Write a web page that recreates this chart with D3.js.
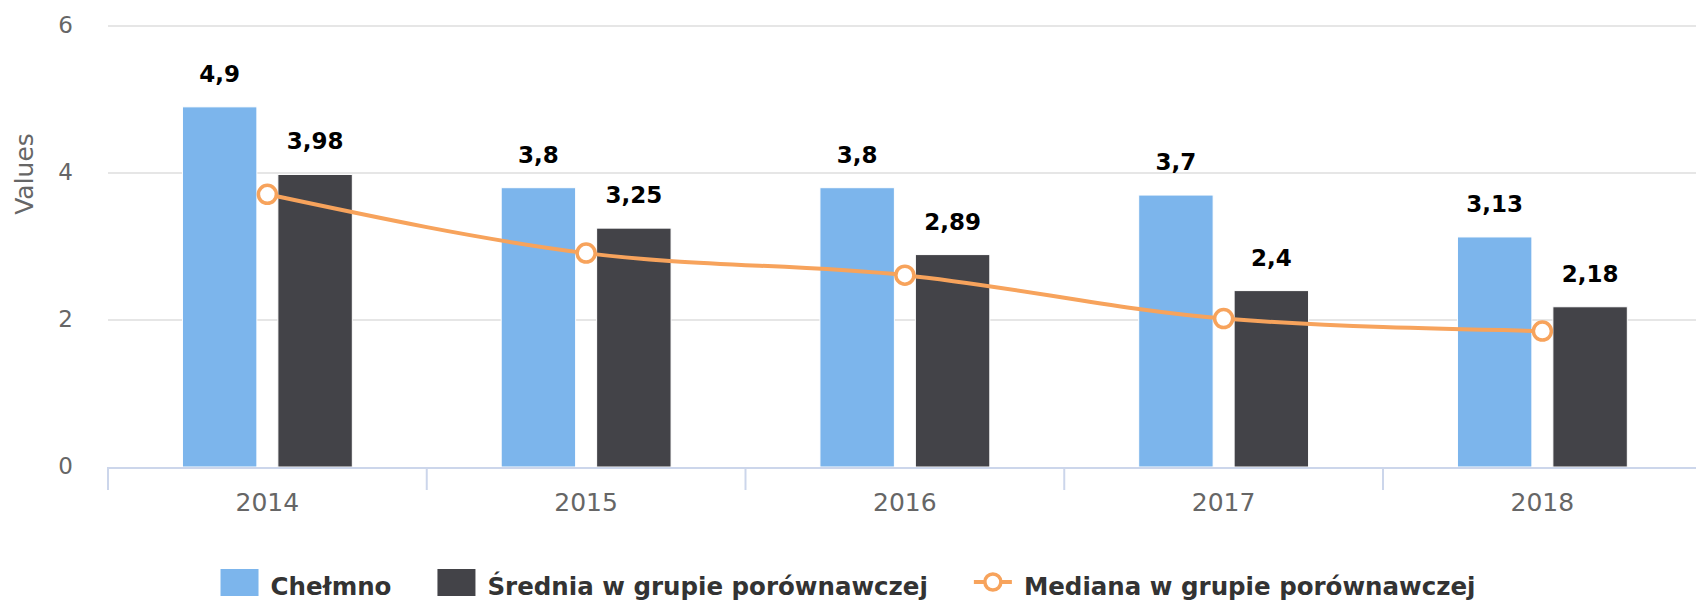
<!DOCTYPE html>
<html>
<head>
<meta charset="utf-8">
<script src="https://cdn.jsdelivr.net/npm/d3@7"></script>
<style>
  body { margin: 0; background: #fff; }
  svg { display: block; font-family: "DejaVu Sans", Verdana, sans-serif; }
</style>
</head>
<body>
<div id="chart"></div>
<script>
const WIDTH = 1696;
const HEIGHT = 600;

const years = ["2014", "2015", "2016", "2017", "2018"];
const chelmno = [4.9, 3.8, 3.8, 3.7, 3.13];
const srednia = [3.98, 3.25, 2.89, 2.4, 2.18];
const mediana = [3.71, 2.91, 2.61, 2.02, 1.85];
const yTicks = [0, 2, 4, 6];
const seriesNames = ["Chełmno", "Średnia w grupie porównawczej", "Mediana w grupie porównawczej"];
const colors = ["#7cb5ec", "#434348", "#f7a35c"];

const fmt = v => String(v).replace(".", ",");

const svg = d3.select("#chart").append("svg")
  .attr("width", WIDTH)
  .attr("height", HEIGHT);

// Scales
const x0 = d3.scaleBand().domain(years).range([108, 1701.75]).padding(0);
const x1 = d3.scaleBand()
  .domain(["a", "b"])
  .range([0, x0.bandwidth()])
  .paddingInner(0.22)
  .paddingOuter(0.78);
const y = d3.scaleLinear().domain([0, 6]).range([467, 26]);

// Gridlines
svg.append("g")
  .selectAll("line")
  .data(yTicks.filter(d => d > 0))
  .join("line")
  .attr("x1", 108)
  .attr("x2", WIDTH)
  .attr("y1", d => y(d))
  .attr("y2", d => y(d))
  .attr("stroke", "#e6e6e6")
  .attr("stroke-width", 2);

// Y labels
svg.append("g")
  .selectAll("text")
  .data(yTicks)
  .join("text")
  .attr("x", 73)
  .attr("y", d => y(d) - 1)
  .attr("dy", "0.36em")
  .attr("text-anchor", "end")
  .attr("fill", "#666666")
  .style("font-size", "23px")
  .text(d => d);

// Axis title
svg.append("text")
  .attr("transform", "translate(33,174) rotate(-90)")
  .attr("text-anchor", "middle")
  .attr("fill", "#666666")
  .style("font-size", "25px")
  .text("Values");

// Bars
const bars = svg.append("g");
const barData = years.flatMap((yr, i) => [
  { yr, key: "a", v: chelmno[i], c: colors[0] },
  { yr, key: "b", v: srednia[i], c: colors[1] },
]);
bars.selectAll("rect")
  .data(barData)
  .join("rect")
  .attr("x", d => x0(d.yr) + x1(d.key))
  .attr("y", d => y(d.v))
  .attr("width", x1.bandwidth())
  .attr("height", d => y(0) - y(d.v))
  .attr("fill", d => d.c)
  .attr("stroke", "#ffffff")
  .attr("stroke-width", 1);

// X axis line and ticks
svg.append("line")
  .attr("x1", 108)
  .attr("x2", WIDTH)
  .attr("y1", y(0) + 1)
  .attr("y2", y(0) + 1)
  .attr("stroke", "#ccd6eb")
  .attr("stroke-width", 2);

svg.append("g")
  .selectAll("line")
  .data(years)
  .join("line")
  .attr("x1", d => x0(d))
  .attr("x2", d => x0(d))
  .attr("y1", y(0))
  .attr("y2", y(0) + 23)
  .attr("stroke", "#ccd6eb")
  .attr("stroke-width", 2);

svg.append("g")
  .selectAll("text")
  .data(years)
  .join("text")
  .attr("x", d => x0(d) + x0.bandwidth() / 2)
  .attr("y", 511)
  .attr("text-anchor", "middle")
  .attr("fill", "#666666")
  .style("font-size", "25px")
  .text(d => d);

// Median spline
const line = d3.line()
  .x((d, i) => x0(years[i]) + x0.bandwidth() / 2)
  .y(d => y(d))
  .curve(d3.curveMonotoneX);

svg.append("path")
  .datum(mediana)
  .attr("d", line)
  .attr("fill", "none")
  .attr("stroke", colors[2])
  .attr("stroke-width", 4);

svg.append("g")
  .selectAll("circle")
  .data(mediana)
  .join("circle")
  .attr("cx", (d, i) => x0(years[i]) + x0.bandwidth() / 2)
  .attr("cy", d => y(d))
  .attr("r", 9)
  .attr("fill", "#ffffff")
  .attr("stroke", colors[2])
  .attr("stroke-width", 3.5);

// Data labels
svg.append("g")
  .selectAll("text")
  .data(barData)
  .join("text")
  .attr("x", d => x0(d.yr) + x1(d.key) + x1.bandwidth() / 2)
  .attr("y", d => y(d.v) - 25)
  .attr("text-anchor", "middle")
  .attr("fill", "#000000")
  .style("font-size", "23px")
  .style("font-weight", "bold")
  .text(d => fmt(d.v));

// Legend
const legend = svg.append("g");
const items = legend.selectAll("g")
  .data(seriesNames)
  .join("g");

items.append("text")
  .attr("x", 50)
  .attr("y", 595)
  .attr("fill", "#333333")
  .style("font-size", "24.5px")
  .style("font-weight", "bold")
  .text(d => d);

items.each(function (d, i) {
  const g = d3.select(this);
  if (i < 2) {
    g.append("rect")
      .attr("x", 0)
      .attr("y", 569)
      .attr("width", 38)
      .attr("height", 27)
      .attr("fill", colors[i]);
  } else {
    g.append("line")
      .attr("x1", 0)
      .attr("x2", 38)
      .attr("y1", 582)
      .attr("y2", 582)
      .attr("stroke", colors[2])
      .attr("stroke-width", 4);
    g.append("circle")
      .attr("cx", 19)
      .attr("cy", 582)
      .attr("r", 8)
      .attr("fill", "#ffffff")
      .attr("stroke", colors[2])
      .attr("stroke-width", 3.5);
  }
});

// lay out legend items centred
const widths = [];
items.each(function () {
  widths.push(50 + d3.select(this).select("text").node().getComputedTextLength());
});
const gap = 46;
const total = d3.sum(widths) + gap * (widths.length - 1);
let cursor = WIDTH / 2 - total / 2;
items.attr("transform", (d, i) => {
  const t = `translate(${cursor},0)`;
  cursor += widths[i] + gap;
  return t;
});
</script>
</body>
</html>
